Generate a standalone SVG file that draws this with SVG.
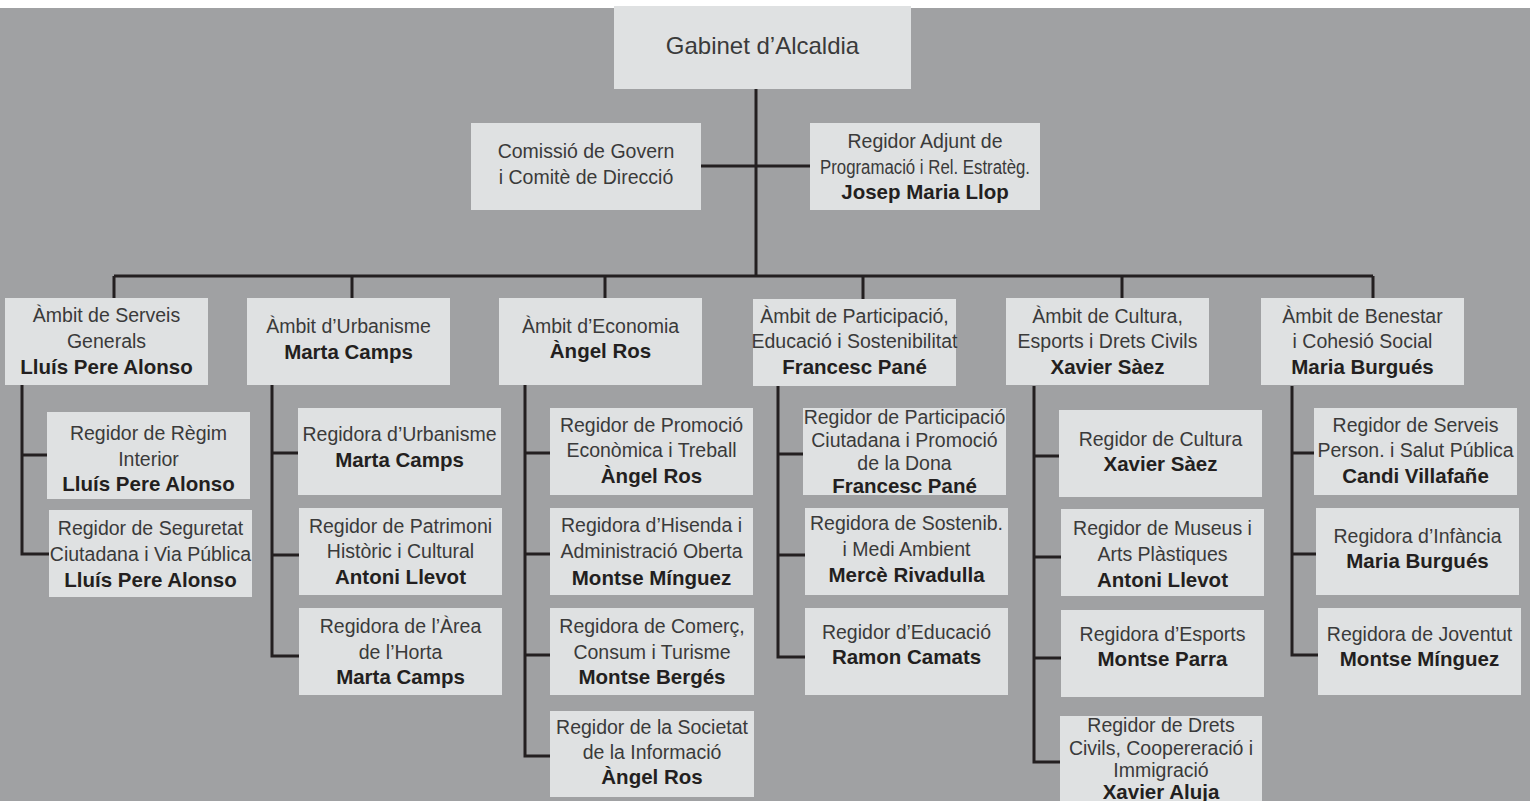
<svg xmlns="http://www.w3.org/2000/svg" width="1530" height="801" viewBox="0 0 1530 801">
<style>
.bx{fill:#dfe1e2}
text{font-family:"Liberation Sans",Arial,Helvetica,sans-serif;text-anchor:middle}
.t{font-size:19.5px;fill:#3a3a3a}
.b{font-size:20.5px;font-weight:bold;fill:#231f20}
.h{font-size:24px;fill:#3a3a3a}
#conn path{fill:none;stroke:#231f20;stroke-width:3}
</style>
<rect x="0" y="0" width="1530" height="801" fill="#a0a1a3"/>
<rect x="0" y="0" width="1530" height="8" fill="#ffffff"/>
<g id="conn">
<path d="M756,89 V276"/>
<path d="M701,166 H810"/>
<path d="M114,276 H1373"/>
<path d="M114,276 V298 M352,276 V298 M605,276 V298 M863,276 V299 M1122,276 V298 M1373,276 V298"/>
<path d="M22,385 V554 H49 M22,455 H47"/>
<path d="M272,385 V656 H299 M272,453 H298 M272,555 H299"/>
<path d="M525,385 V756 H550 M525,453 H550 M525,554 H550 M525,655 H550"/>
<path d="M778,386 V657 H805 M778,454 H803 M778,555 H805"/>
<path d="M1034,386 V762 H1060 M1034,456 H1059 M1034,557 H1061 M1034,658 H1061"/>
<path d="M1292,386 V655 H1318 M1292,453 H1314 M1292,554 H1316"/>
</g>
<g id="gabinet"><rect class="bx" x="614" y="6" width="297" height="83"/><text class="h" x="762.5" y="54">Gabinet d’Alcaldia</text></g>
<g id="comissio"><rect class="bx" x="471" y="123" width="230" height="87"/><text class="t" x="586" y="158">Comissió de Govern</text><text class="t" x="586" y="184">i Comitè de Direcció</text></g>
<g id="adjunt"><rect class="bx" x="810" y="123" width="230" height="87"/><text class="t" x="925" y="148">Regidor Adjunt de</text><text class="t" x="925" y="173.5" textLength="210" lengthAdjust="spacingAndGlyphs">Programació i Rel. Estratèg.</text><text class="b" x="925" y="199">Josep Maria Llop</text></g>

<g id="a1"><rect class="bx" x="5" y="298" width="203" height="87"/><text class="t" x="106.5" y="321.7">Àmbit de Serveis</text><text class="t" x="106.5" y="348.3">Generals</text><text class="b" x="106.5" y="374">Lluís Pere Alonso</text></g>
<g id="a2"><rect class="bx" x="247" y="298" width="203" height="87"/><text class="t" x="348.5" y="332.7">Àmbit d’Urbanisme</text><text class="b" x="348.5" y="359">Marta Camps</text></g>
<g id="a3"><rect class="bx" x="499" y="298" width="203" height="87"/><text class="t" x="600.5" y="332.7">Àmbit d’Economia</text><text class="b" x="600.5" y="358.3">Àngel Ros</text></g>
<g id="a4"><rect class="bx" x="753" y="299" width="203" height="87"/><text class="t" x="854.5" y="322.7">Àmbit de Participació,</text><text class="t" x="854.5" y="348.3">Educació i Sostenibilitat</text><text class="b" x="854.5" y="374.3">Francesc Pané</text></g>
<g id="a5"><rect class="bx" x="1006" y="298" width="203" height="87"/><text class="t" x="1107.5" y="322.7">Àmbit de Cultura,</text><text class="t" x="1107.5" y="348.3">Esports i Drets Civils</text><text class="b" x="1107.5" y="374.3">Xavier Sàez</text></g>
<g id="a6"><rect class="bx" x="1261" y="298" width="203" height="87"/><text class="t" x="1362.5" y="322.7">Àmbit de Benestar</text><text class="t" x="1362.5" y="348.3">i Cohesió Social</text><text class="b" x="1362.5" y="374.3">Maria Burgués</text></g>

<g id="s1a"><rect class="bx" x="47" y="412" width="203" height="87"/><text class="t" x="148.5" y="440">Regidor de Règim</text><text class="t" x="148.5" y="465.7">Interior</text><text class="b" x="148.5" y="491">Lluís Pere Alonso</text></g>
<g id="s1b"><rect class="bx" x="49" y="510" width="203" height="87"/><text class="t" x="150.5" y="535">Regidor de Seguretat</text><text class="t" x="150.5" y="561">Ciutadana i Via Pública</text><text class="b" x="150.5" y="586.5">Lluís Pere Alonso</text></g>

<g id="s2a"><rect class="bx" x="298" y="408" width="203" height="87"/><text class="t" x="399.5" y="441.3">Regidora d’Urbanisme</text><text class="b" x="399.5" y="466.7">Marta Camps</text></g>
<g id="s2b"><rect class="bx" x="299" y="508" width="203" height="87"/><text class="t" x="400.5" y="532.7">Regidor de Patrimoni</text><text class="t" x="400.5" y="558.3">Històric i Cultural</text><text class="b" x="400.5" y="584">Antoni Llevot</text></g>
<g id="s2c"><rect class="bx" x="299" y="608" width="203" height="87"/><text class="t" x="400.5" y="633.3">Regidora de l’Àrea</text><text class="t" x="400.5" y="658.7">de l’Horta</text><text class="b" x="400.5" y="684.3">Marta Camps</text></g>

<g id="s3a"><rect class="bx" x="550" y="408" width="203" height="87"/><text class="t" x="651.5" y="431.7">Regidor de Promoció</text><text class="t" x="651.5" y="457.3">Econòmica i Treball</text><text class="b" x="651.5" y="483.3">Àngel Ros</text></g>
<g id="s3b"><rect class="bx" x="550" y="508" width="203" height="87"/><text class="t" x="651.5" y="531.7">Regidora d’Hisenda i</text><text class="t" x="651.5" y="557.7">Administració Oberta</text><text class="b" x="651.5" y="585">Montse Mínguez</text></g>
<g id="s3c"><rect class="bx" x="550" y="608" width="204" height="87"/><text class="t" x="652" y="633.3">Regidora de Comerç,</text><text class="t" x="652" y="658.7">Consum i Turisme</text><text class="b" x="652" y="684.3">Montse Bergés</text></g>
<g id="s3d"><rect class="bx" x="550" y="711" width="204" height="86"/><text class="t" x="652" y="733.7">Regidor de la Societat</text><text class="t" x="652" y="759">de la Informació</text><text class="b" x="652" y="784">Àngel Ros</text></g>

<g id="s4a"><rect class="bx" x="803" y="408" width="203" height="87"/><text class="t" x="904.5" y="424.3">Regidor de Participació</text><text class="t" x="904.5" y="447.3">Ciutadana i Promoció</text><text class="t" x="904.5" y="470.3">de la Dona</text><text class="b" x="904.5" y="492.7">Francesc Pané</text></g>
<g id="s4b"><rect class="bx" x="805" y="508" width="203" height="87"/><text class="t" x="906.5" y="530">Regidora de Sostenib.</text><text class="t" x="906.5" y="555.7">i Medi Ambient</text><text class="b" x="906.5" y="581.7">Mercè Rivadulla</text></g>
<g id="s4c"><rect class="bx" x="805" y="608" width="203" height="87"/><text class="t" x="906.5" y="639">Regidor d’Educació</text><text class="b" x="906.5" y="664.3">Ramon Camats</text></g>

<g id="s5a"><rect class="bx" x="1059" y="410" width="203" height="87"/><text class="t" x="1160.5" y="445.7">Regidor de Cultura</text><text class="b" x="1160.5" y="471">Xavier Sàez</text></g>
<g id="s5b"><rect class="bx" x="1061" y="509" width="203" height="87"/><text class="t" x="1162.5" y="535">Regidor de Museus i</text><text class="t" x="1162.5" y="560.7">Arts Plàstiques</text><text class="b" x="1162.5" y="586.7">Antoni Llevot</text></g>
<g id="s5c"><rect class="bx" x="1061" y="610" width="203" height="87"/><text class="t" x="1162.5" y="641">Regidora d’Esports</text><text class="b" x="1162.5" y="666">Montse Parra</text></g>
<g id="s5d"><rect class="bx" x="1060" y="716" width="202" height="90"/><text class="t" x="1161" y="732">Regidor de Drets</text><text class="t" x="1161" y="755">Civils, Coopereració i</text><text class="t" x="1161" y="777.3">Immigració</text><text class="b" x="1161" y="799.3">Xavier Aluja</text></g>

<g id="s6a"><rect class="bx" x="1314" y="408" width="203" height="87"/><text class="t" x="1415.5" y="431.7">Regidor de Serveis</text><text class="t" x="1415.5" y="457.3">Person. i Salut Pública</text><text class="b" x="1415.5" y="483.3">Candi Villafañe</text></g>
<g id="s6b"><rect class="bx" x="1316" y="508" width="203" height="87"/><text class="t" x="1417.5" y="543.3">Regidora d’Infància</text><text class="b" x="1417.5" y="568.3">Maria Burgués</text></g>
<g id="s6c"><rect class="bx" x="1318" y="608" width="203" height="87"/><text class="t" x="1419.5" y="641">Regidora de Joventut</text><text class="b" x="1419.5" y="666">Montse Mínguez</text></g>
</svg>
